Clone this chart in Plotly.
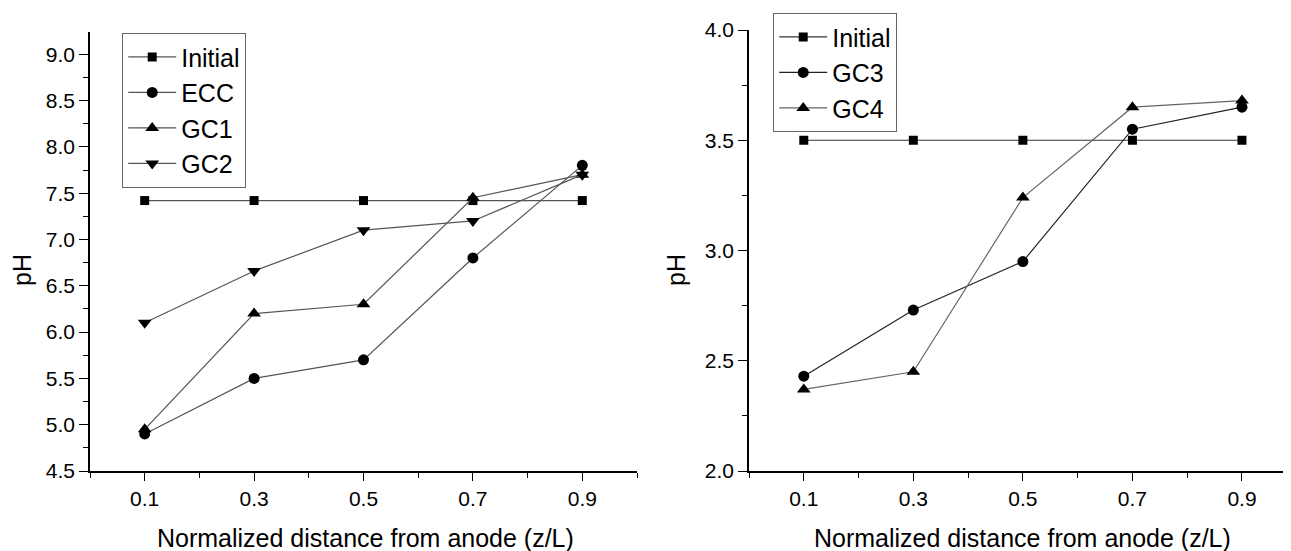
import plotly.graph_objects as go

# ---- data ----
x_pos = [0.1, 0.3, 0.5, 0.7, 0.9]
x_ticklabels = ["0.1", "0.3", "0.5", "0.7", "0.9"]

left_initial = [7.42, 7.42, 7.42, 7.42, 7.42]
left_ecc = [4.90, 5.50, 5.70, 6.80, 7.80]
left_gc1 = [4.95, 6.20, 6.30, 7.45, 7.70]
left_gc2 = [6.10, 6.66, 7.10, 7.20, 7.70]

right_initial = [3.50, 3.50, 3.50, 3.50, 3.50]
right_gc3 = [2.43, 2.73, 2.95, 3.55, 3.65]
right_gc4 = [2.37, 2.45, 3.24, 3.65, 3.68]

# The page body has an 8px default margin, so the figure is shifted by it.
OFF = 8
W, H = 1291 - OFF, 551 - OFF
FONT = "Liberation Sans, Arial, sans-serif"

fig = go.Figure()

def add(x, y, name, symbol, size, color, xa, ya, legend):
    fig.add_trace(go.Scatter(
        x=x, y=y, name=name, mode="lines+markers",
        line=dict(color=color, width=1.2),
        marker=dict(symbol=symbol, size=size, color="black", line=dict(width=0)),
        xaxis=xa, yaxis=ya, legend=legend))

add(x_pos, left_initial, "Initial", "square", 9, "#555555", "x", "y", "legend")
add(x_pos, left_ecc, "ECC", "circle", 11, "#555555", "x", "y", "legend")
add(x_pos, left_gc1, "GC1", "triangle-up", 12, "#555555", "x", "y", "legend")
add(x_pos, left_gc2, "GC2", "triangle-down", 12, "#555555", "x", "y", "legend")

add(x_pos, right_initial, "Initial", "square", 9, "#333333", "x2", "y2", "legend2")
add(x_pos, right_gc3, "GC3", "circle", 11, "#222222", "x2", "y2", "legend2")
add(x_pos, right_gc4, "GC4", "triangle-up", 12, "#666666", "x2", "y2", "legend2")

# page-pixel layout targets
top_px, bot_px = 30, 471
mt = top_px - OFF
mb = H - (bot_px - OFF)
ph = H - mt - mb

def ptx(px):
    return (px - OFF) / W

def pty(py):
    return 1 - (py - top_px) / ph

def xaxis(domain, rng):
    return dict(domain=domain, range=rng, showgrid=False, zeroline=False,
                showline=True, linecolor="black", linewidth=1.5,
                ticks="outside", ticklen=8, tickwidth=1.3, tickcolor="black",
                tickvals=x_pos, ticktext=x_ticklabels,
                tickfont=dict(family=FONT, size=21, color="black"),
                minor=dict(ticks="outside", ticklen=5, tickwidth=1.3, tickcolor="black",
                           tick0=0, dtick=0.1, showgrid=False),
                fixedrange=True)

def yaxis(anchor, domain, rng, dtick):
    return dict(anchor=anchor, domain=domain, range=rng, showgrid=False, zeroline=False,
                showline=True, linecolor="black", linewidth=1.5,
                ticks="outside", ticklen=9, tickwidth=1.3, tickcolor="black",
                tick0=0, dtick=dtick, tickformat=".1f",
                tickfont=dict(family=FONT, size=21, color="black"),
                minor=dict(ticks="outside", ticklen=5, tickwidth=1.3, tickcolor="black",
                           dtick=dtick / 2, showgrid=False),
                fixedrange=True)

legend_style = dict(xanchor="left", yanchor="top",
                    bordercolor="#666666", borderwidth=1.2, bgcolor="white",
                    font=dict(family=FONT, size=25, color="black"),
                    tracegroupgap=0, itemwidth=48)

fig.update_layout(
    width=W, height=H,
    margin=dict(l=0, r=0, t=mt, b=mb),
    paper_bgcolor="white", plot_bgcolor="white",
    font=dict(family=FONT, color="black"),
    xaxis=xaxis([ptx(90), ptx(637)], [0, 1.0]),
    yaxis=yaxis("x", [0, 1 - 2 / ph], [4.5, 9.24], 0.5),
    xaxis2=xaxis([ptx(749), 1.0], [0, 0.9895]),
    yaxis2=yaxis("x2", [0, 1], [2.0, 4.0], 0.5),
    legend=dict(x=ptx(122), y=pty(33), **legend_style),
    legend2=dict(x=ptx(773), y=pty(13), **legend_style),
    showlegend=True,
)

ann = [
    dict(text="Normalized distance from anode (z/L)", x=ptx(365), y=pty(538)),
    dict(text="Normalized distance from anode (z/L)", x=ptx(1022), y=pty(538)),
    dict(text="pH", x=ptx(22), y=pty(270), textangle=-90),
    dict(text="pH", x=ptx(676), y=pty(270), textangle=-90),
]
for a in ann:
    fig.add_annotation(xref="paper", yref="paper", showarrow=False,
                       xanchor="center", yanchor="middle",
                       font=dict(family=FONT, size=25, color="black"), **a)

fig.write_html("out.html")
